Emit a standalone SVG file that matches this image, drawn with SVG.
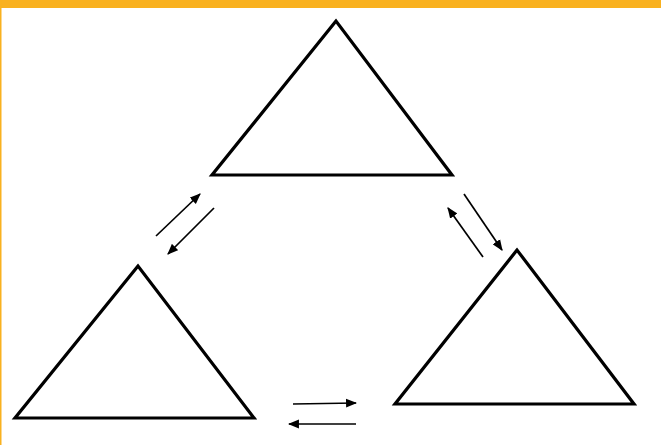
<svg xmlns="http://www.w3.org/2000/svg" width="661" height="445" viewBox="0 0 661 445">
  <defs>
    <style>
      .tri { fill: none; stroke: #000; stroke-width: 3.2; stroke-linejoin: miter; }
      .arr { stroke: #000; stroke-width: 1.7; fill: none; marker-end: url(#head); }
    </style>
    <marker id="head" viewBox="0 0 10 8" refX="9" refY="4" markerWidth="6.5" markerHeight="5.5" markerUnits="strokeWidth" orient="auto">
      <path d="M0,0 L10,4 L0,8 Z" fill="#000"/>
    </marker>
  </defs>
  <rect x="0" y="0" width="661" height="445" fill="#fff"/>
  <rect x="0" y="0" width="661" height="8" fill="#f9b11f"/>
  <rect x="0" y="0" width="1.5" height="445" fill="#f9b11f"/>
  <g id="triangle-top">
    <polygon class="tri" points="336,21 212,175 452,175"/>
  </g>
  <g id="triangle-left">
    <polygon class="tri" points="138,266 15,418 254,418"/>
  </g>
  <g id="triangle-right">
    <polygon class="tri" points="517,250 395,404 634,404"/>
  </g>
  <g id="connectors">
    <line class="arr" x1="156" y1="236" x2="200" y2="194"/>
    <line class="arr" x1="214" y1="208" x2="168" y2="254"/>
    <line class="arr" x1="464" y1="194" x2="502" y2="250"/>
    <line class="arr" x1="483" y1="257" x2="448" y2="208"/>
    <line class="arr" x1="293" y1="404" x2="356" y2="403"/>
    <line class="arr" x1="356" y1="424" x2="289" y2="424"/>
  </g>
</svg>
